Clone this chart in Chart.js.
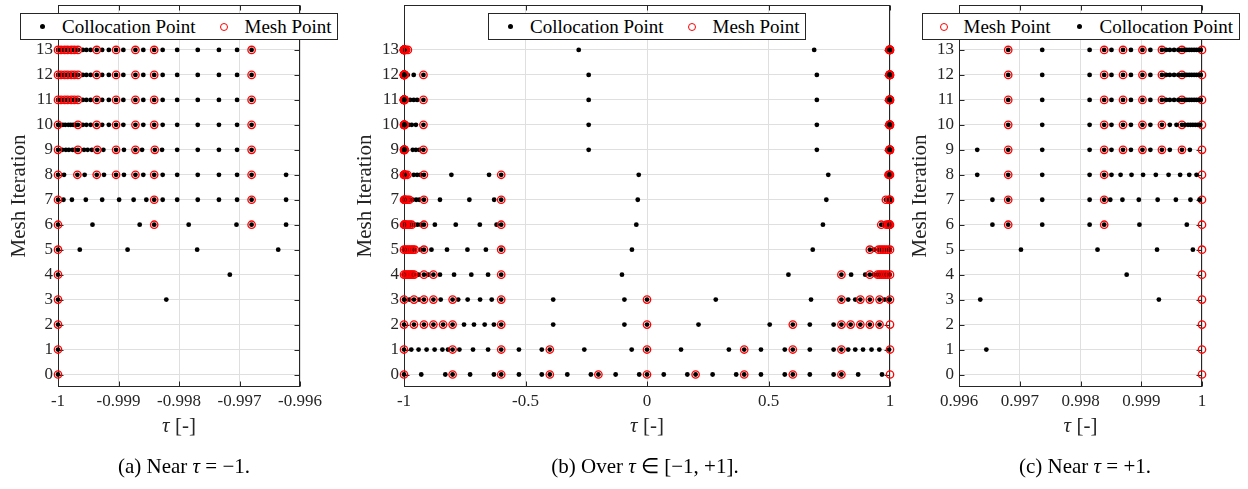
<!DOCTYPE html>
<html lang="en">
<head>
  <meta charset="UTF-8">
  <title>Mesh refinement history</title>
  <script src="https://cdn.jsdelivr.net/npm/chart.js"></script>
  <style>
    body {
      margin: 0;
      background: #fff;
      font-family: 'Liberation Serif', serif;
    }
    #fig {
      position: relative;
      width: 1248px;
      height: 489px;
      overflow: hidden;
    }
    #fig canvas {
      position: absolute;
      top: -20px;
    }
    .legend {
      position: absolute;
      top: 13px;
      width: 318px;
      height: 27px;
      box-sizing: border-box;
      border: 1px solid #262626;
      background: #fff;
      display: flex;
      align-items: center;
      padding-left: 17px;
      font-size: 19px;
      color: #000;
      white-space: nowrap;
    }
    .mk {
      width: 9px;
      height: 9px;
      display: inline-flex;
      justify-content: center;
      align-items: center;
      margin-right: 15px;
    }
    .mk.second { margin-left: 24px; margin-right: 16px; }
    .dot { width: 5px; height: 5px; border-radius: 50%; background: #000; }
    .ring { width: 6px; height: 6px; border-radius: 50%; border: 1.3px solid #f00; }
    .xlabel, .caption {
      position: absolute;
      transform: translate(-50%, -50%);
      white-space: nowrap;
    }
    .xlabel { top: 425px; font-size: 21px; color: #262626; }
    .caption { top: 466px; font-size: 21px; color: #000; }
  </style>
</head>
<body>
  <div id="fig"></div>

  <script>
    // mesh iterations (y axis)
    const iterations = [0, 1, 2, 3, 4, 5, 6, 7, 8, 9, 10, 11, 12, 13];

    // tick labels of the three panels
    const xTicksNearMinus = [-1, -0.999, -0.998, -0.997, -0.996];
    const xLabelsNearMinus = ['-1', '-0.999', '-0.998', '-0.997', '-0.996'];
    const xTicksFull = [-1, -0.5, 0, 0.5, 1];
    const xLabelsFull = ['-1', '-0.5', '0', '0.5', '1'];
    const xTicksNearPlus = [0.996, 0.997, 0.998, 0.999, 1];
    const xLabelsNearPlus = ['0.996', '0.997', '0.998', '0.999', '1'];

    // collocation points, one list per mesh iteration
    // close to tau = -1
    const collNearMinus = [
      [-1],
      [-1],
      [-1],
      [-1, -0.99821],
      [-1, -0.99716],
      [-1, -0.99964, -0.99885, -0.99770, -0.99636],
      [-1, -0.99943, -0.99865, -0.99841, -0.99784, -0.99705, -0.99680, -0.99623],
      [-1, -0.99991, -0.99977, -0.99954, -0.99927, -0.99899, -0.99875, -0.99854, -0.99841, -0.99827, -0.99803, -0.99769, -0.99734, -0.99704, -0.99680, -0.99623],
      [-1, -0.99990, -0.99968, -0.99956, -0.99936, -0.99924, -0.99904, -0.99891, -0.99872, -0.99859, -0.99841, -0.99827, -0.99803, -0.99769, -0.99734, -0.99704, -0.99680, -0.99623],
      [-1, -0.99993, -0.99987, -0.99982, -0.99976, -0.99972, -0.99967, -0.99957, -0.99951, -0.99944, -0.99935, -0.99925, -0.99904, -0.99891, -0.99872, -0.99861, -0.99840, -0.99828, -0.99803, -0.99769, -0.99734, -0.99704, -0.99680],
      [-1, -0.99997, -0.99992, -0.99988, -0.99983, -0.99979, -0.99975, -0.99971, -0.99967, -0.99959, -0.99953, -0.99946, -0.99936, -0.99927, -0.99916, -0.99904, -0.99892, -0.99872, -0.99859, -0.99841, -0.99827, -0.99803, -0.99769, -0.99734, -0.99704, -0.99680],
      [-1, -0.99997, -0.99995, -0.99992, -0.99989, -0.99986, -0.99984, -0.99981, -0.99978, -0.99975, -0.99973, -0.99970, -0.99967, -0.99959, -0.99953, -0.99946, -0.99936, -0.99927, -0.99916, -0.99904, -0.99892, -0.99872, -0.99859, -0.99841, -0.99827, -0.99803, -0.99769, -0.99734, -0.99704, -0.99680],
      [-1, -0.99997, -0.99995, -0.99992, -0.99989, -0.99986, -0.99984, -0.99981, -0.99978, -0.99975, -0.99973, -0.99970, -0.99967, -0.99959, -0.99953, -0.99946, -0.99936, -0.99927, -0.99916, -0.99904, -0.99892, -0.99872, -0.99859, -0.99841, -0.99827, -0.99803, -0.99769, -0.99734, -0.99704, -0.99680],
      [-1, -0.99997, -0.99995, -0.99992, -0.99989, -0.99986, -0.99984, -0.99981, -0.99978, -0.99975, -0.99973, -0.99970, -0.99967, -0.99959, -0.99953, -0.99946, -0.99936, -0.99927, -0.99916, -0.99904, -0.99892, -0.99872, -0.99859, -0.99841, -0.99827, -0.99803, -0.99769, -0.99734, -0.99704, -0.99680]
    ];
    // between the two ends
    const collInterior = [
      [-0.929, -0.830, -0.800, -0.728, -0.630, -0.600, -0.527, -0.433, -0.400, -0.328, -0.231, -0.200, -0.129, -0.032, 0, 0.069, 0.166, 0.200, 0.270, 0.367, 0.400, 0.469, 0.567, 0.600, 0.670, 0.768, 0.800, 0.869, 0.967],
      [-0.970, -0.940, -0.907, -0.874, -0.842, -0.819, -0.800, -0.772, -0.716, -0.654, -0.600, -0.527, -0.433, -0.400, -0.258, -0.063, 0, 0.140, 0.337, 0.400, 0.469, 0.567, 0.600, 0.670, 0.768, 0.800, 0.828, 0.857, 0.889, 0.924, 0.956],
      [-0.959, -0.918, -0.879, -0.839, -0.800, -0.753, -0.712, -0.668, -0.630, -0.600, -0.386, -0.093, 0, 0.212, 0.505, 0.600, 0.670, 0.768, 0.800, 0.838, 0.878, 0.917, 0.957],
      [-0.978, -0.959, -0.938, -0.918, -0.879, -0.849, -0.800, -0.777, -0.738, -0.687, -0.639, -0.600, -0.386, -0.093, 0, 0.283, 0.675, 0.800, 0.828, 0.857, 0.878, 0.917, 0.957, 0.978],
      [-0.994, -0.988, -0.982, -0.976, -0.970, -0.964, -0.958, -0.940, -0.918, -0.900, -0.879, -0.852, -0.794, -0.723, -0.654, -0.600, -0.103, 0.582, 0.800, 0.840, 0.898, 0.917, 0.935, 0.949, 0.957, 0.965, 0.973, 0.981, 0.989],
      [-0.993, -0.985, -0.978, -0.970, -0.963, -0.956, -0.932, -0.918, -0.887, -0.823, -0.739, -0.663, -0.600, -0.062, 0.682, 0.917, 0.935, 0.953, 0.962, 0.971, 0.980, 0.990],
      [-0.992, -0.984, -0.976, -0.968, -0.956, -0.944, -0.930, -0.918, -0.873, -0.787, -0.688, -0.619, -0.600, -0.044, 0.724, 0.964, 0.975, 0.985, 0.993],
      [-0.993, -0.986, -0.978, -0.965, -0.950, -0.937, -0.918, -0.852, -0.731, -0.629, -0.600, -0.038, 0.738, 0.983, 0.990],
      [-0.993, -0.986, -0.960, -0.946, -0.933, -0.918, -0.805, -0.650, -0.600, -0.034, 0.746, 0.9937],
      [-0.964, -0.951, -0.937, -0.920, -0.240, 0.699],
      [-0.980, -0.968, -0.951, -0.920, -0.240, 0.699],
      [-0.975, -0.960, -0.946, -0.920, -0.240, 0.699],
      [-0.985, -0.960, -0.920, -0.240, 0.699],
      [-0.992, -0.984, -0.281, 0.688]
    ];
    // close to tau = +1
    const collNearPlus = [
      [],
      [0.99645],
      [],
      [0.99635, 0.99929],
      [0.99876],
      [0.99702, 0.99828, 0.99926, 0.99985],
      [0.99655, 0.99681, 0.99737, 0.99815, 0.99839, 0.99897, 0.99975],
      [0.99655, 0.99681, 0.99737, 0.99815, 0.99839, 0.99849, 0.99869, 0.99896, 0.99927, 0.99957, 0.99981, 0.99996],
      [0.99630, 0.99681, 0.99737, 0.99815, 0.99839, 0.99851, 0.99866, 0.99884, 0.99903, 0.99924, 0.99945, 0.99964, 0.99979, 0.99991],
      [0.99630, 0.99681, 0.99737, 0.99815, 0.99839, 0.99851, 0.99870, 0.99883, 0.99902, 0.99915, 0.99934, 0.99947, 0.99967, 0.99980],
      [0.99681, 0.99737, 0.99815, 0.99839, 0.99851, 0.99870, 0.99883, 0.99902, 0.99915, 0.99934, 0.99947, 0.99958, 0.99967, 0.99972, 0.99977, 0.99981, 0.99985, 0.99989, 0.99993, 0.99997],
      [0.99681, 0.99737, 0.99815, 0.99839, 0.99851, 0.99870, 0.99883, 0.99902, 0.99915, 0.99934, 0.99941, 0.99947, 0.99954, 0.99961, 0.99967, 0.99971, 0.99975, 0.99979, 0.99983, 0.99987, 0.99991, 0.99995, 0.99998],
      [0.99681, 0.99737, 0.99815, 0.99839, 0.99851, 0.99870, 0.99883, 0.99902, 0.99915, 0.99934, 0.99941, 0.99947, 0.99954, 0.99961, 0.99967, 0.99971, 0.99975, 0.99979, 0.99983, 0.99987, 0.99991, 0.99995, 0.99998],
      [0.99681, 0.99737, 0.99815, 0.99839, 0.99851, 0.99870, 0.99883, 0.99902, 0.99915, 0.99934, 0.99941, 0.99947, 0.99954, 0.99961, 0.99967, 0.99971, 0.99975, 0.99979, 0.99983, 0.99987, 0.99991, 0.99995, 0.99998]
    ];

    // mesh points, one list per mesh iteration
    const meshNearMinus = [
      [-1], [-1], [-1], [-1], [-1], [-1],
      [-1, -0.99841, -0.99680],
      [-1, -0.99841, -0.99680],
      [-1, -0.99968, -0.99936, -0.99904, -0.99872, -0.99841, -0.99680],
      [-1, -0.99967, -0.99935, -0.99904, -0.99872, -0.99840, -0.99680],
      [-1, -0.99967, -0.99936, -0.99904, -0.99872, -0.99841, -0.99680],
      [-1, -0.99995, -0.99989, -0.99984, -0.99978, -0.99973, -0.99967, -0.99936, -0.99904, -0.99872, -0.99841, -0.99680],
      [-1, -0.99995, -0.99989, -0.99984, -0.99978, -0.99973, -0.99967, -0.99936, -0.99904, -0.99872, -0.99841, -0.99680],
      [-1, -0.99995, -0.99989, -0.99984, -0.99978, -0.99973, -0.99967, -0.99936, -0.99904, -0.99872, -0.99841, -0.99680]
    ];
    const meshInterior = [
      [-0.8, -0.6, -0.4, -0.2, 0, 0.2, 0.4, 0.6, 0.8],
      [-0.8, -0.6, -0.4, 0, 0.4, 0.6, 0.8],
      [-0.959, -0.918, -0.879, -0.839, -0.8, -0.6, 0, 0.6, 0.8, 0.838, 0.878, 0.917, 0.957],
      [-0.959, -0.918, -0.879, -0.8, -0.6, 0, 0.8, 0.878, 0.917, 0.957],
      [-0.994, -0.988, -0.982, -0.976, -0.970, -0.964, -0.958, -0.918, -0.879, -0.6, 0.8, 0.917, 0.949, 0.957, 0.965, 0.973, 0.981, 0.989],
      [-0.993, -0.985, -0.978, -0.970, -0.963, -0.956, -0.918, -0.6, 0.917, 0.953, 0.962, 0.971, 0.980, 0.990],
      [-0.992, -0.984, -0.976, -0.968, -0.918, -0.6, 0.964, 0.985, 0.993],
      [-0.993, -0.986, -0.978, -0.918, -0.6, 0.983],
      [-0.993, -0.986, -0.918, -0.6, 0.9937],
      [-0.920],
      [-0.920],
      [-0.920],
      [-0.920],
      [-0.992, -0.984]
    ];
    const meshNearPlus = [
      [1], [1], [1], [1], [1], [1],
      [0.99681, 0.99839, 1],
      [0.99681, 0.99839, 1],
      [0.99681, 0.99839, 1],
      [0.99681, 0.99839, 0.99870, 0.99902, 0.99934, 0.99967, 1],
      [0.99681, 0.99839, 0.99870, 0.99902, 0.99934, 0.99967, 1],
      [0.99681, 0.99839, 0.99870, 0.99902, 0.99934, 0.99967, 1],
      [0.99681, 0.99839, 0.99870, 0.99902, 0.99934, 0.99967, 1],
      [0.99681, 0.99839, 0.99870, 0.99902, 0.99934, 0.99967, 1]
    ];

    const fig = document.getElementById('fig');
    const serif = "'Liberation Serif', 'Times New Roman', serif";
    const gridColor = '#dfdfdf';
    const axisColor = '#262626';

    // turn the per-iteration lists into scatter points inside a tau window
    function toPoints(groups, lo, hi) {
      const out = [];
      iterations.forEach((it, i) => {
        groups.forEach(g => {
          g[i].forEach(t => {
            if (t >= lo - 1e-9 && t <= hi + 1e-9) out.push({ x: t, y: it });
          });
        });
      });
      return out;
    }

    // MATLAB style box with inward ticks on all four sides
    const axesBox = {
      id: 'axesBox',
      beforeDatasetsDraw(chart) {
        const { ctx, chartArea: a, scales: { x, y } } = chart;
        const L = Math.round(a.left) + 0.5, R = Math.round(a.right) - 0.5;
        const T = Math.round(a.top) + 0.5, B = Math.round(a.bottom) - 0.5;
        const len = 5;
        ctx.save();
        ctx.strokeStyle = axisColor;
        ctx.lineWidth = 1;
        ctx.strokeRect(L, T, R - L, B - T);
        ctx.beginPath();
        x.ticks.forEach(t => {
          const px = Math.round(x.getPixelForValue(t.value)) + 0.5;
          ctx.moveTo(px, B); ctx.lineTo(px, B - len);
          ctx.moveTo(px, T); ctx.lineTo(px, T + len);
        });
        y.ticks.forEach(t => {
          const py = Math.round(y.getPixelForValue(t.value)) + 0.5;
          ctx.moveTo(L, py); ctx.lineTo(L + len, py);
          ctx.moveTo(R, py); ctx.lineTo(R - len, py);
        });
        ctx.stroke();
        ctx.restore();
      }
    };

    const panels = [
      { canvasLeft: -6, plotWidth: 242, xTicks: xTicksNearMinus, xLabels: xLabelsNearMinus,
        legend: ['coll', 'mesh'], meshOnTop: true,
        caption: '(a) Near <i>τ</i> = −1.', captionX: 184 },
      { canvasLeft: 340, plotWidth: 486, xTicks: xTicksFull, xLabels: xLabelsFull,
        legend: ['coll', 'mesh'], meshOnTop: true,
        caption: '(b) Over <i>τ</i> ∈ [−1, +1].', captionX: 645 },
      { canvasLeft: 895, plotWidth: 243, xTicks: xTicksNearPlus, xLabels: xLabelsNearPlus,
        legend: ['mesh', 'coll'], meshOnTop: false,
        caption: '(c) Near <i>τ</i> = +1.', captionX: 1085 }
    ];

    const yAxisWidth = 64;
    const padRight = 30;

    panels.forEach(p => {
      const canvas = document.createElement('canvas');
      canvas.width = yAxisWidth + p.plotWidth + padRight;
      canvas.height = 442;
      canvas.style.left = p.canvasLeft + 'px';
      fig.appendChild(canvas);

      const lo = p.xTicks[0], hi = p.xTicks[p.xTicks.length - 1];

      new Chart(canvas, {
        type: 'scatter',
        data: {
          datasets: [
            {
              label: 'Collocation Point',
              data: toPoints([collNearMinus, collInterior, collNearPlus], lo, hi),
              pointRadius: 2.4,
              pointBackgroundColor: '#000',
              pointBorderWidth: 0,
              order: p.meshOnTop ? 1 : 0,
              clip: false
            },
            {
              label: 'Mesh Point',
              data: toPoints([meshNearMinus, meshInterior, meshNearPlus], lo, hi),
              pointRadius: 3.7,
              pointBackgroundColor: 'rgba(0,0,0,0)',
              pointBorderColor: '#ff0000',
              pointBorderWidth: 1.3,
              order: p.meshOnTop ? 0 : 1,
              clip: false
            }
          ]
        },
        options: {
          responsive: false,
          animation: false,
          events: [],
          layout: { padding: { top: 25, right: padRight, bottom: 0, left: 0 } },
          plugins: {
            legend: { display: false },
            tooltip: { enabled: false }
          },
          scales: {
            x: {
              type: 'linear',
              min: lo,
              max: hi,
              afterBuildTicks: s => { s.ticks = p.xTicks.map(v => ({ value: v })); },
              afterFit: s => { s.height = 35; },
              ticks: {
                autoSkip: false, maxRotation: 0, minRotation: 0, padding: 4,
                color: axisColor, font: { family: serif, size: 17 },
                callback: (v, i) => p.xLabels[i]
              },
              grid: { color: gridColor, drawTicks: false },
              border: { display: false }
            },
            y: {
              type: 'linear',
              min: -0.5,
              max: 14.8,
              afterBuildTicks: s => { s.ticks = iterations.map(v => ({ value: v })); },
              afterFit: s => { s.width = yAxisWidth; },
              ticks: {
                padding: 5, color: axisColor, font: { family: serif, size: 17 },
                callback: v => String(v)
              },
              title: {
                display: true, text: 'Mesh Iteration', color: axisColor,
                font: { family: serif, size: 21 },
                padding: { top: 12.4, bottom: 0 }
              },
              grid: { color: gridColor, drawTicks: false },
              border: { display: false }
            }
          }
        },
        plugins: [axesBox]
      });

      const plotLeft = p.canvasLeft + yAxisWidth;
      const plotCenter = plotLeft + p.plotWidth / 2;

      // legend drawn as html on top of the axes
      const legend = document.createElement('div');
      legend.className = 'legend';
      legend.style.left = (plotCenter - 159) + 'px';
      p.legend.forEach((key, k) => {
        const mk = document.createElement('span');
        mk.className = 'mk' + (k > 0 ? ' second' : '');
        const sym = document.createElement('span');
        sym.className = key === 'coll' ? 'dot' : 'ring';
        mk.appendChild(sym);
        const txt = document.createElement('span');
        txt.textContent = key === 'coll' ? 'Collocation Point' : 'Mesh Point';
        legend.appendChild(mk);
        legend.appendChild(txt);
      });
      fig.appendChild(legend);

      const xl = document.createElement('div');
      xl.className = 'xlabel';
      xl.style.left = plotCenter + 'px';
      xl.innerHTML = '<i>τ</i> [-]';
      fig.appendChild(xl);

      const cap = document.createElement('div');
      cap.className = 'caption';
      cap.style.left = p.captionX + 'px';
      cap.innerHTML = p.caption;
      fig.appendChild(cap);
    });
  </script>
</body>
</html>
